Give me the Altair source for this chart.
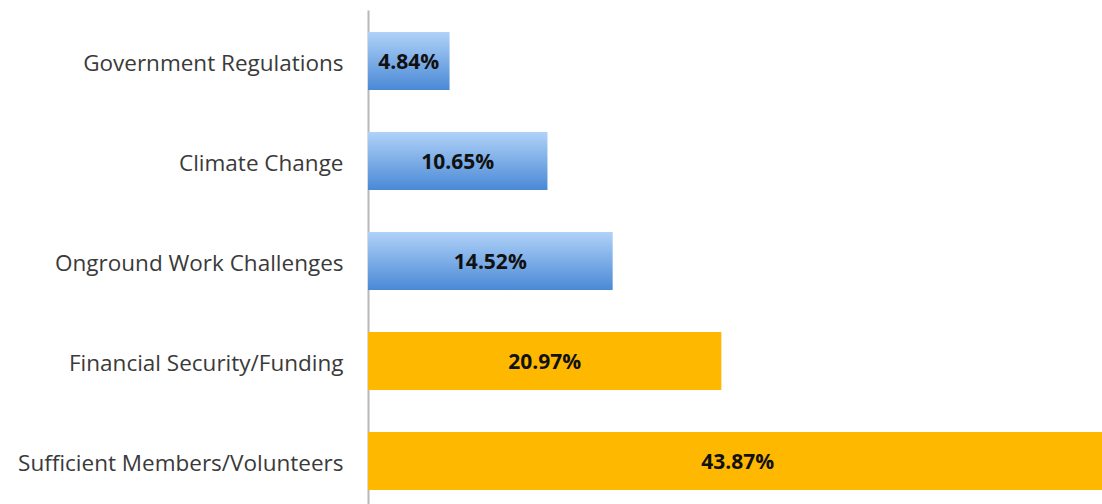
import altair as alt
import pandas as pd

categories = ["Government Regulations", "Climate Change", "Onground Work Challenges",
              "Financial Security/Funding", "Sufficient Members/Volunteers"]
values = [4.84, 10.65, 14.52, 20.97, 43.87]
groups = ["blue", "blue", "blue", "orange", "orange"]

df = pd.DataFrame({"category": categories, "value": values, "group": groups})
df["label"] = df["value"].map(lambda v: f"{v:.2f}%")
df["mid"] = df["value"] / 2

y_enc = alt.Y("category:N", sort=categories, title=None,
              scale=alt.Scale(paddingInner=0.42, paddingOuter=0.18, align=0.611),
              axis=alt.Axis(domain=True, domainColor="#B8B8B8", domainWidth=2,
                            ticks=False, labelPadding=25, labelLimit=400,
                            labelFont="Open Sans", labelFontSize=22.5,
                            labelColor="#3A3A3A", grid=False, labelBaseline="middle",
                            labelOffset=3))
x_scale = alt.Scale(domain=[0, 43.56], nice=False, zero=True)
x_enc = alt.X("value:Q", scale=x_scale, axis=None)

base = alt.Chart(df)

blue = base.transform_filter(alt.datum.group == "blue").mark_bar(
    clip=True,
    color=alt.Gradient(gradient="linear",
                       stops=[alt.GradientStop(color="#B0D2F8", offset=0),
                              alt.GradientStop(color="#4A89D6", offset=1)],
                       x1=0, x2=0, y1=0, y2=1)
).encode(x=x_enc, y=y_enc)

orange = base.transform_filter(alt.datum.group == "orange").mark_bar(
    clip=True, color="#FFB800"
).encode(x=x_enc, y=y_enc)

text = base.mark_text(font="Open Sans", fontWeight="bold", fontSize=21,
                      color="#111111", align="center", baseline="middle", dy=2).encode(
    x=alt.X("mid:Q", scale=x_scale, axis=None),
    y=alt.Y("category:N", sort=categories),
    text="label:N")

chart = alt.layer(blue, orange, text).properties(
    width=734, height=494,
    background="white",
    autosize=alt.AutoSizeParams(type="none"),
    padding={"left": 368, "top": 10, "right": 0, "bottom": 0},
).configure_view(stroke="transparent", strokeWidth=0).configure_axis(grid=False)

chart.save("out.html", embed_options={"renderer": "svg", "actions": False})
